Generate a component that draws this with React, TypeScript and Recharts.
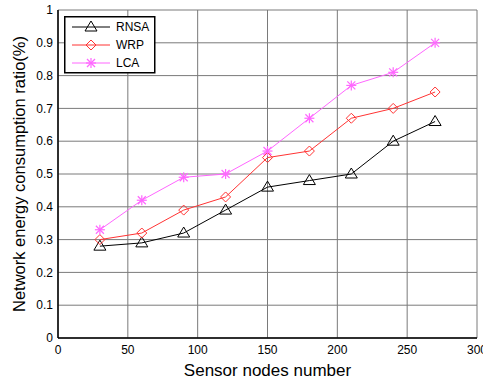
import React from 'react';
import { LineChart, Line, XAxis, YAxis, CartesianGrid, Label } from 'recharts';

const nodes = [30, 60, 90, 120, 150, 180, 210, 240, 270];
const rnsa = [0.28, 0.29, 0.32, 0.39, 0.46, 0.48, 0.5, 0.6, 0.66];
const wrp = [0.3, 0.32, 0.39, 0.43, 0.55, 0.57, 0.67, 0.7, 0.75];
const lca = [0.33, 0.42, 0.49, 0.5, 0.57, 0.67, 0.77, 0.81, 0.9];

const xTicks = [0, 50, 100, 150, 200, 250, 300];
const yTicks = [0, 0.1, 0.2, 0.3, 0.4, 0.5, 0.6, 0.7, 0.8, 0.9, 1];

const data = nodes.map((n, i) => ({ n, RNSA: rnsa[i], WRP: wrp[i], LCA: lca[i] }));

const FONT = '"Liberation Sans", Arial, sans-serif';

const Triangle = ({ cx, cy, color }: any) => (
  <path d={`M${cx},${cy - 6}L${cx + 6},${cy + 4}L${cx - 6},${cy + 4}Z`} fill="none" stroke={color} strokeWidth={1} />
);

const Diamond = ({ cx, cy, color }: any) => (
  <path d={`M${cx},${cy - 5}L${cx + 5},${cy}L${cx},${cy + 5}L${cx - 5},${cy}Z`} fill="none" stroke={color} strokeWidth={1} />
);

const Star = ({ cx, cy, color }: any) => (
  <g stroke={color} strokeWidth={1.2}>
    <line x1={cx - 5} y1={cy} x2={cx + 5} y2={cy} />
    <line x1={cx} y1={cy - 5} x2={cx} y2={cy + 5} />
    <line x1={cx - 4} y1={cy - 4} x2={cx + 4} y2={cy + 4} />
    <line x1={cx - 4} y1={cy + 4} x2={cx + 4} y2={cy - 4} />
  </g>
);

const series = [
  { key: 'RNSA', color: '#000000', Marker: Triangle },
  { key: 'WRP', color: '#ff3333', Marker: Diamond },
  { key: 'LCA', color: '#ff66ff', Marker: Star },
];

const LegendBox = () => (
  <svg width={92} height={58} style={{ display: 'block' }}>
    <rect x={0.75} y={0.75} width={90} height={56} fill="#fff" stroke="#000" strokeWidth={1.5} />
    {series.map((s, i) => {
      const y = 11 + i * 18;
      const M = s.Marker;
      return (
        <g key={s.key}>
          <line x1={8} y1={y} x2={46} y2={y} stroke={s.color} />
          <M cx={27} cy={y} color={s.color} />
          <text x={52} y={y + 4} fontSize={12} fontFamily={FONT} fill="#000">{s.key}</text>
        </g>
      );
    })}
  </svg>
);

export default function App() {
  return (
    <div style={{ position: 'absolute', left: 0, top: 0, width: 483, height: 379, background: '#fff' }}>
      <LineChart width={483} height={379} data={data} margin={{ top: 10, right: 6, bottom: 0, left: 0 }}>
        <CartesianGrid stroke="#7a7a7a" />
        <XAxis
          dataKey="n"
          type="number"
          domain={[0, 300]}
          ticks={xTicks}
          height={41}
          axisLine={{ stroke: '#000', strokeWidth: 1.5 }}
          tickLine={false}
          tickSize={0}
          tickMargin={7}
          tick={{ fill: '#000', fontSize: 12, fontFamily: FONT }}
          interval={0}
        >
          <Label value="Sensor nodes number" position="insideBottom" offset={3} style={{ fill: '#000', fontSize: 17, fontFamily: FONT }} />
        </XAxis>
        <XAxis xAxisId="top" orientation="top" type="number" domain={[0, 300]} ticks={xTicks} height={0}
          axisLine={{ stroke: '#000', strokeWidth: 1.5 }} tick={false} />
        <YAxis
          type="number"
          domain={[0, 1]}
          ticks={yTicks}
          width={58}
          axisLine={{ stroke: '#000', strokeWidth: 1.5 }}
          tickLine={false}
          tickSize={0}
          tickMargin={5}
          tick={{ fill: '#000', fontSize: 12, fontFamily: FONT }}
          interval={0}
        >
          <Label value="Network energy consumption ratio(%)" angle={-90} position="insideLeft" offset={19}
            style={{ textAnchor: 'middle', fill: '#000', fontSize: 16.5, fontFamily: FONT }} />
        </YAxis>
        <YAxis yAxisId="right" orientation="right" type="number" domain={[0, 1]} ticks={yTicks} width={0}
          axisLine={{ stroke: '#000', strokeWidth: 1.5 }} tick={false} />
        {series.map((s) => {
          const M = s.Marker;
          return (
            <Line
              key={s.key}
              dataKey={s.key}
              stroke={s.color}
              strokeWidth={1}
              isAnimationActive={false}
              dot={(p: any) => <M key={`${s.key}-${p.index}`} cx={p.cx} cy={p.cy} color={s.color} />}
              activeDot={false}
            />
          );
        })}
      </LineChart>
      <div style={{ position: 'absolute', left: 64, top: 16 }}>
        <LegendBox />
      </div>
    </div>
  );
}
